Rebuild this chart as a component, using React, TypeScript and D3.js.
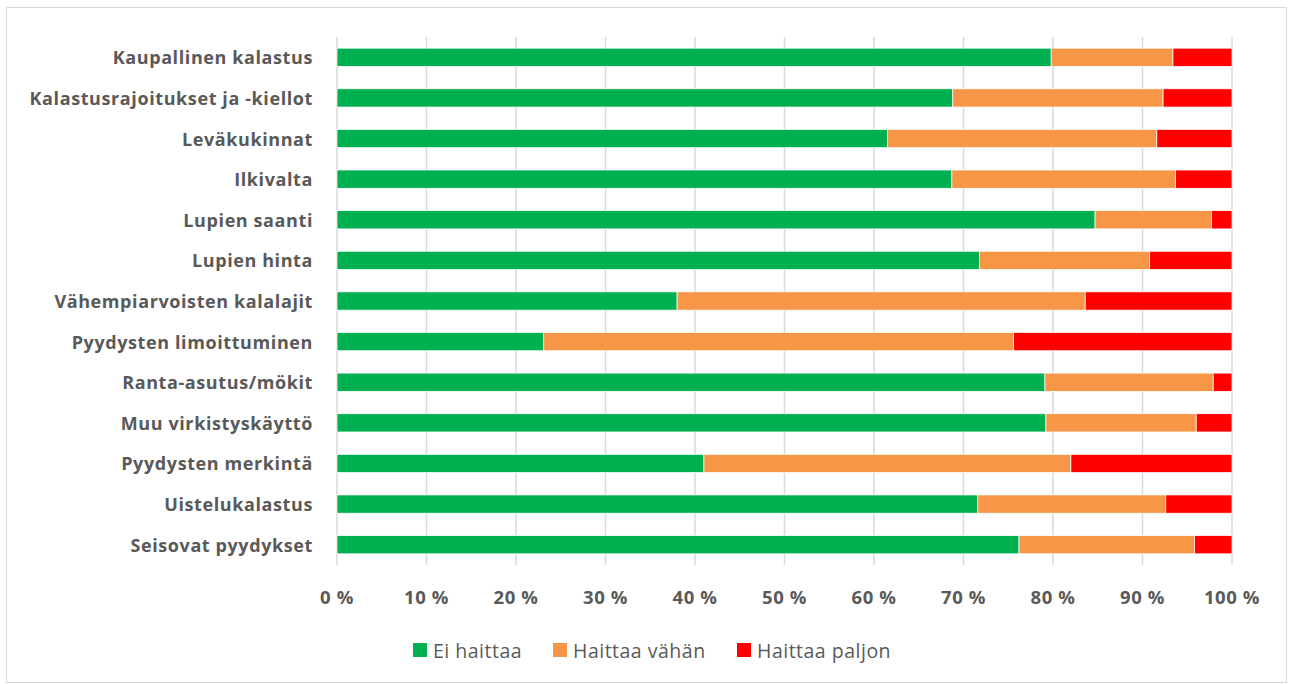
import React from "react";
import * as d3 from "d3";

const categories = [
  "Kaupallinen kalastus",
  "Kalastusrajoitukset ja -kiellot",
  "Leväkukinnat",
  "Ilkivalta",
  "Lupien saanti",
  "Lupien hinta",
  "Vähempiarvoisten kalalajit",
  "Pyydysten limoittuminen",
  "Ranta-asutus/mökit",
  "Muu virkistyskäyttö",
  "Pyydysten merkintä",
  "Uistelukalastus",
  "Seisovat pyydykset",
];
const eiHaittaa = [79.8, 68.8, 61.5, 68.7, 84.7, 71.8, 38.0, 23.1, 79.1, 79.2, 41.0, 71.6, 76.2];
const haittaaVahan = [13.6, 23.5, 30.1, 25.0, 13.0, 19.0, 45.6, 52.5, 18.8, 16.8, 41.0, 21.0, 19.6];
const haittaaPaljon = categories.map((_, i) => 100 - eiHaittaa[i] - haittaaVahan[i]);
const seriesNames = ["Ei haittaa", "Haittaa vähän", "Haittaa paljon"];
const seriesColors = ["#00B050", "#F79646", "#FF0000"];
const ticks = [0, 10, 20, 30, 40, 50, 60, 70, 80, 90, 100];

export default function App() {
  const W = 1290, H = 684;
  const left = 337, right = 1232, top = 37, bottom = 565;
  const x = d3.scaleLinear().domain([0, 100]).range([left, right]);
  const y = d3.scaleBand().domain(categories).range([top, bottom]).paddingInner(0.55).paddingOuter(0.275);
  const rows = categories.map((c, i) => ({ c, v: [eiHaittaa[i], haittaaVahan[i], haittaaPaljon[i]] }));
  const stack = d3.stack<any>().keys([0, 1, 2] as any).value((d: any, k: any) => d.v[k]);
  const stacked = stack(rows as any);
  const font = "'Open Sans', sans-serif";
  const legendItems = [
    { x: 413, name: seriesNames[0], color: seriesColors[0] },
    { x: 553, name: seriesNames[1], color: seriesColors[1] },
    { x: 737, name: seriesNames[2], color: seriesColors[2] },
  ];
  return (
    <svg width={W} height={H} style={{ position: "absolute", left: 0, top: 0 }}>
      <rect x={0} y={0} width={W} height={H} fill="#fff" />
      <rect x={6.5} y={7.5} width={1280} height={675} fill="#fff" stroke="#D9D9D9" strokeWidth={1} />
      {ticks.map((t) => (
        <line key={t} x1={x(t)} x2={x(t)} y1={top} y2={bottom} stroke="#D9D9D9" strokeWidth={1.5} />
      ))}
      {stacked.map((s, si) => (
        <g key={si}>
          {s.map((d: any, i: number) => (
            <rect
              key={i}
              x={x(d[0])}
              y={y(categories[i])}
              width={x(d[1]) - x(d[0])}
              height={y.bandwidth()}
              fill={seriesColors[si]}
              stroke="#fff"
              strokeWidth={0.75}
            />
          ))}
        </g>
      ))}
      {categories.map((c) => (
        <text key={c} x={313} y={y(c)! + y.bandwidth() / 2} textAnchor="end" dominantBaseline="central"
          fontFamily={font} fontWeight="bold" fontSize={18} letterSpacing={0.6} fill="#595959">{c}</text>
      ))}
      {ticks.map((t) => (
        <text key={t} x={x(t)} y={596} textAnchor="middle" dominantBaseline="central"
          fontFamily={font} fontWeight="bold" fontSize={18.5} letterSpacing={0.6} fill="#595959">{t} %</text>
      ))}
      {legendItems.map((l) => (
        <g key={l.name}>
          <rect x={l.x} y={643} width={14} height={14} fill={l.color} />
          <text x={l.x + 20} y={650} dominantBaseline="central" fontFamily={font} fontSize={19.5} letterSpacing={0.5} fill="#595959">{l.name}</text>
        </g>
      ))}
    </svg>
  );
}
